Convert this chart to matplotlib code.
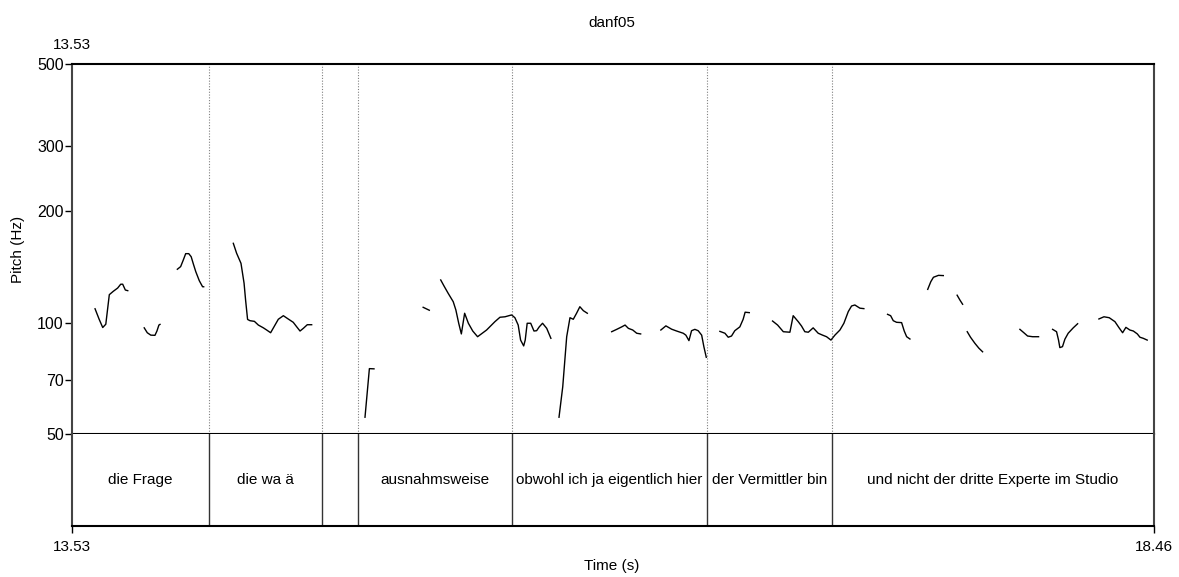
#!/usr/bin/env python3
# Pitch track of danf05 (13.53 - 18.46 s) with the word tier underneath
import matplotlib
matplotlib.use("Agg")
import matplotlib.pyplot as plt

plt.rcParams['font.family'] = ['Liberation Sans', 'DejaVu Sans']
FS = 11

# Time span and pitch range
t_start, t_end = 13.53, 18.46
f_min, f_max = 50, 500
f_ticks = [50, 70, 100, 200, 300, 500]

# Interval tier: boundaries (s) and labels
bounds = [14.154, 14.669, 14.833, 15.535, 16.423, 16.993]
words = ["die Frage", "die wa ä", "", "ausnahmsweise",
         "obwohl ich ja eigentlich hier", "der Vermittler bin",
         "und nicht der dritte Experte im Studio"]

# Pitch contour pieces: time (s) and F0 (Hz)
seg_t = [
    [13.635, 13.654, 13.670, 13.684, 13.700, 13.718, 13.738, 13.752, 13.761, 13.773, 13.784],
    [13.859, 13.873, 13.889, 13.908, 13.917, 13.926, 13.931],
    [14.010, 14.025, 14.037, 14.048, 14.062, 14.073, 14.083, 14.094, 14.110, 14.125, 14.130],
    [14.265, 14.280, 14.300, 14.314, 14.321, 14.330, 14.341, 14.361, 14.379, 14.402, 14.417,
     14.435, 14.455, 14.470, 14.493, 14.515, 14.538, 14.554, 14.569, 14.584, 14.602, 14.622],
    [14.865, 14.885, 14.906],
    [15.130, 15.158],
    [15.210, 15.225, 15.244, 15.267, 15.279, 15.292, 15.304, 15.319, 15.336, 15.356, 15.378,
     15.419, 15.457, 15.480, 15.503, 15.533, 15.548, 15.563, 15.574, 15.588, 15.595, 15.604,
     15.620, 15.635, 15.647, 15.659, 15.674, 15.693, 15.712],
    [15.749, 15.766, 15.784, 15.799, 15.814, 15.829, 15.844, 15.860, 15.878],
    [15.989, 16.012, 16.035, 16.050, 16.065, 16.085, 16.103, 16.121],
    [16.213, 16.236, 16.262, 16.285, 16.315, 16.327, 16.341, 16.353, 16.368, 16.383, 16.399,
     16.409, 16.420],
    [16.482, 16.505, 16.520, 16.535, 16.550, 16.573, 16.588, 16.597, 16.616],
    [16.722, 16.745, 16.771, 16.801, 16.816, 16.839, 16.854, 16.869, 16.885, 16.907, 16.930,
     16.950, 16.968, 16.988, 17.006, 17.029, 17.047, 17.067, 17.082, 17.097, 17.120, 17.138],
    [17.246, 17.260, 17.272, 17.287, 17.310, 17.322, 17.333, 17.348],
    [17.429, 17.443, 17.455, 17.478, 17.500],
    [17.563, 17.576, 17.588],
    [17.609, 17.624, 17.644, 17.662, 17.679],
    [17.849, 17.867, 17.884, 17.907, 17.934],
    [17.998, 18.016, 18.025, 18.031, 18.043, 18.054, 18.069, 18.092, 18.112],
    [18.209, 18.232, 18.256, 18.282, 18.301, 18.317, 18.332, 18.350, 18.366, 18.384, 18.396,
     18.411, 18.429],
]
seg_hz = [
    [109, 102, 97, 99, 119, 121.5, 124, 127, 127, 122.5, 122],
    [96.8, 93.9, 92.5, 92.4, 94.9, 98.5, 98.9],
    [139.4, 141.7, 147.6, 153.6, 153.6, 150.7, 144, 137.3, 129.8, 125, 125],
    [163.8, 154, 144.6, 127.8, 115, 102, 101.2, 100.8, 98.5, 96.8, 95.5,
     93.9, 98.5, 102.1, 104.4, 102.3, 100.2, 97.4, 94.9, 96.5, 98.7, 98.7],
    [55.5, 75.1, 75.0],
    [110, 108],
    [130.4, 125.6, 120, 113.9, 108.2, 99.6, 93.2, 106, 99.6, 94.9, 91.6,
     95.5, 100.6, 103.4, 103.7, 104.9, 103.1, 98.5, 89.7, 86.5, 89.7, 99.6,
     99.6, 94.9, 95.1, 97.4, 99.6, 96.5, 90.7],
    [55.5, 67.1, 91.6, 103.1, 102.1, 106, 110.4, 107.7, 106],
    [94.5, 95.9, 97.4, 98.5, 96.5, 95.5, 93.6, 93.2],
    [95.5, 98, 96, 94.9, 93.6, 92.5, 89.4, 95.1, 95.9, 95.1, 92.5, 86.1, 80.6],
    [94.7, 93.6, 91.3, 92, 95.1, 97.4, 102.1, 106.7, 106.4],
    [101, 98.5, 94.5, 94.2, 104.4, 100.6, 97.9, 94.5, 94.2, 96.8, 93.6,
     92.5, 91.6, 89.7, 92.5, 95.5, 99.6, 107.1, 110.9, 111.6, 109.4, 109.1],
    [105.3, 104.4, 101.2, 100.2, 100, 94.9, 91.6, 90.3],
    [123, 129, 132.6, 134.2, 134],
    [118.6, 115, 112.1],
    [94.5, 91.3, 87.9, 85.3, 83.4],
    [95.9, 93.9, 92, 91.6, 91.6],
    [95.9, 94.5, 89.7, 85.6, 86.1, 90.2, 93.6, 96.8, 99.3],
    [102.3, 103.7, 103.1, 100.6, 96.8, 93.9, 97.1, 95.5, 94.9, 93.2, 91.3, 90.7, 89.7],
]

W, H = 1179, 577
fig = plt.figure(figsize=(W / 100, H / 100), dpi=100)

# Axes rectangles (figure fractions)
x0, x1 = 72 / W, 1154 / W
ax = fig.add_axes([x0, 1 - 434 / H, x1 - x0, (434 - 64) / H])
tier = fig.add_axes([x0, 1 - 526 / H, x1 - x0, (526 - 434) / H])

# Pitch panel
for t, f in zip(seg_t, seg_hz):
    ax.plot(t, f, color='black', lw=1.0)
for b in bounds:
    ax.axvline(b, color='#808080', lw=0.8, ls=(0, (1, 1.5)))
ax.set_yscale('log')
ax.set_xlim(t_start, t_end)
ax.set_ylim(f_min, f_max)
ax.set_yticks(f_ticks)
ax.set_yticklabels([str(v) for v in f_ticks])
ax.minorticks_off()
ax.set_xticks([])
ax.tick_params(axis='y', length=5, width=1, pad=1, labelsize=FS + 0.5, direction='out')
for side in ['top', 'bottom']:
    ax.spines[side].set_color('black')
    ax.spines[side].set_linewidth(1.5)
for side in ['left', 'right']:
    ax.spines[side].set_color('#444444')
    ax.spines[side].set_linewidth(1.5)

# Word tier
tier.set_xlim(t_start, t_end)
tier.set_ylim(0, 1)
edges = [t_start] + bounds + [t_end]
for b in bounds:
    tier.axvline(b, color='#333333', lw=1.0)
for i, w in enumerate(words):
    tier.text((edges[i] + edges[i + 1]) / 2, 0.5, w, ha='center', va='center', fontsize=FS)
tier.set_yticks([])
tier.set_xticks([t_start, t_end])
tier.set_xticklabels(['13.53', '18.46'])
tier.tick_params(axis='x', length=5, width=1, pad=5, labelsize=FS, direction='out')
tier.spines['top'].set_visible(False)
tier.spines['bottom'].set_color('black')
tier.spines['bottom'].set_linewidth(1.5)
for side in ['left', 'right']:
    tier.spines[side].set_color('#444444')
    tier.spines[side].set_linewidth(1.5)

# Titles and labels
fig.text(612 / W, 1 - 23 / H, 'danf05', ha='center', va='center', fontsize=FS)
fig.text(72 / W, 1 - 45 / H, '13.53', ha='center', va='center', fontsize=FS)
fig.text(18 / W, 1 - 249 / H, 'Pitch (Hz)', ha='center', va='center', rotation=90, fontsize=FS)
fig.text(612 / W, 1 - 566 / H, 'Time (s)', ha='center', va='center', fontsize=FS)

fig.savefig('out.png', dpi=100)
